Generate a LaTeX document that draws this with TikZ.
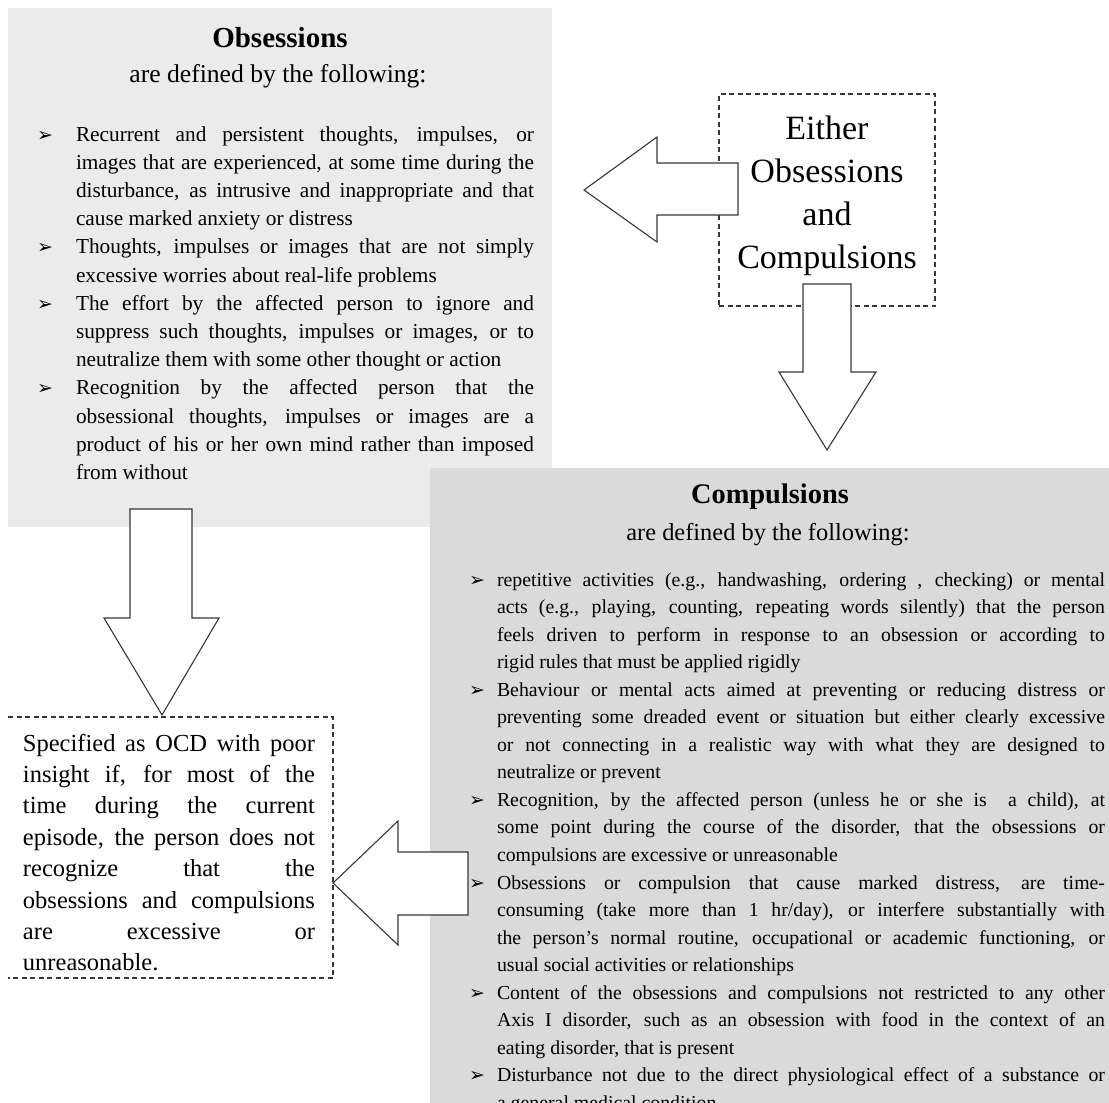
\documentclass[tikz,border=0pt]{standalone}
\usepackage{fontspec}
\setmainfont{Liberation Serif}
\newfontfamily\dejavu{DejaVu Sans}
\definecolor{obsgray}{RGB}{235,235,235}
\definecolor{compgray}{RGB}{218,218,218}
\definecolor{edgecol}{RGB}{55,55,55}
\newcommand{\bulmark}[1]{\llap{\makebox[#1][l]{\dejavu\fontsize{19}{19}\selectfont ➢}}}
\newcommand{\obsitem}[1]{\noindent\bulmark{39pt}#1\par}
\newcommand{\compitem}[1]{\noindent\bulmark{28pt}#1\par}
\tikzset{
  blockarrow/.style={fill=white, draw=edgecol, line width=1.1pt, line join=miter},
  dashbox/.style={draw=edgecol, line width=1.1pt, dash pattern=on 5pt off 3.5pt},
  plain/.style={inner sep=0pt, outer sep=0pt},
}
\begin{document}
\begin{tikzpicture}[x=1pt,y=-1pt]
\useasboundingbox (0,0) rectangle (1109,1103);
% boxes
\node[plain, fill=obsgray, minimum width=544pt, minimum height=519pt, anchor=north west] (obs) at (8,8) {};
\node[plain, fill=compgray, minimum width=690pt, minimum height=650pt, anchor=north west] (comp) at (430,468) {};
\node[plain, dashbox, minimum width=216pt, minimum height=212pt, anchor=north west] (either) at (719,94) {};
\node[plain, minimum width=325pt, minimum height=261pt, anchor=north west] (spec) at (8,717) {};
\draw[dashbox] (spec.north west) -- (spec.north east) -- (spec.south east) -- (spec.south west);

% Obsessions text
\node[plain, anchor=base, font=\bfseries\fontsize{29}{29}\selectfont] (obstitle) at (280,47) {Obsessions};
\node[plain, anchor=base, font=\fontsize{25.6}{25.6}\selectfont] (obssub) at (278,82) {are defined by the following:};
\node[plain, anchor=base west] (obstext) at (76,141) {\vtop{\hsize=458pt\fontsize{21.3}{28.2}\selectfont
\parindent=0pt\hyphenpenalty=10000\hbadness=10000
\obsitem{Recurrent and persistent thoughts, impulses, or\linebreak images that are experienced, at some time during the\linebreak disturbance, as intrusive and inappropriate and that\linebreak cause marked anxiety or distress}
\obsitem{Thoughts, impulses or images that are not simply\linebreak excessive worries about real-life problems}
\obsitem{The effort by the affected person to ignore and\linebreak suppress such thoughts, impulses or images, or to\linebreak neutralize them with some other thought or action}
\obsitem{Recognition by the affected person that the\linebreak obsessional thoughts, impulses or images are a\linebreak product of his or her own mind rather than imposed\linebreak from without}
}};

% Either text
\node[plain, anchor=base] (eithertext) at (827,139) {\vtop{\hsize=216pt\centering\fontsize{34}{43}\selectfont
Either\par Obsessions\par and\par Compulsions\par}};

% Compulsions text
\node[plain, anchor=base, font=\bfseries\fontsize{28.4}{28.4}\selectfont] (comptitle) at (770,503) {Compulsions};
\node[plain, anchor=base, font=\fontsize{24.4}{24.4}\selectfont] (compsub) at (768,540) {are defined by the following:};
\node[plain, anchor=base west] (comptext) at (497,586) {\vtop{\hsize=608pt\fontsize{19.8}{27.55}\selectfont
\parindent=0pt\hyphenpenalty=10000\hbadness=10000
\compitem{repetitive activities (e.g., handwashing, ordering , checking) or mental\linebreak acts (e.g., playing, counting, repeating words silently) that the person\linebreak feels driven to perform in response to an obsession or according to\linebreak rigid rules that must be applied rigidly}
\compitem{Behaviour or mental acts aimed at preventing or reducing distress or\linebreak preventing some dreaded event or situation but either clearly excessive\linebreak or not connecting in a realistic way with what they are designed to\linebreak neutralize or prevent}
\compitem{Recognition, by the affected person (unless he or she is\ \ a child), at\linebreak some point during the course of the disorder, that the obsessions or\linebreak compulsions are excessive or unreasonable}
\compitem{Obsessions or compulsion that cause marked distress, are time-\linebreak consuming (take more than 1 hr/day), or interfere substantially with\linebreak the person’s normal routine, occupational or academic functioning, or\linebreak usual social activities or relationships}
\compitem{Content of the obsessions and compulsions not restricted to any other\linebreak Axis I disorder, such as an obsession with food in the context of an\linebreak eating disorder, that is present}
\compitem{Disturbance not due to the direct physiological effect of a substance or\linebreak a general medical condition}
}};

% Specified text
\node[plain, anchor=base west] (spectext) at (23,751) {\vtop{\hsize=292pt\fontsize{24.5}{31.4}\selectfont
\parindent=0pt\hyphenpenalty=10000\hbadness=10000
Specified as OCD with poor\linebreak insight if, for most of the\linebreak time during the current\linebreak episode, the person does not\linebreak recognize that the\linebreak obsessions and compulsions\linebreak are excessive or\linebreak unreasonable.\par}};

% block arrows
\draw[blockarrow] (738,163) -- (657,163) -- (657,137) -- (584,190) -- (657,242) -- (657,215) -- (738,215) -- cycle;
\draw[blockarrow] (803,284) -- (851,284) -- (851,372) -- (876,372) -- (827,450) -- (779,372) -- (803,372) -- cycle;
\draw[blockarrow] (130,509) -- (192,509) -- (192,618) -- (219,618) -- (162,715) -- (104,618) -- (130,618) -- cycle;
\draw[blockarrow] (468,852) -- (398,852) -- (398,821) -- (333,883) -- (398,945) -- (398,915) -- (468,915) -- cycle;
\end{tikzpicture}
\end{document}
